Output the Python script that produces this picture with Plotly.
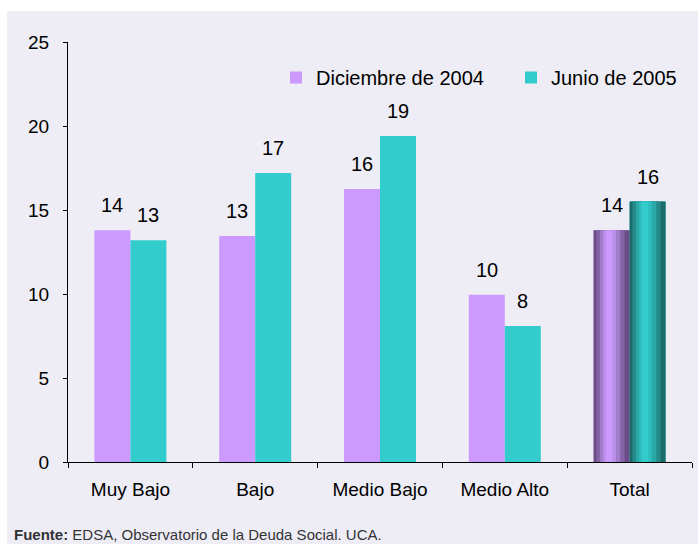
import plotly.graph_objects as go

categories = ["Muy Bajo", "Bajo", "Medio Bajo", "Medio Alto", "Total"]
dic_2004 = [13.8, 13.45, 16.25, 9.95, 13.8]
jun_2005 = [13.2, 17.2, 19.4, 8.1, 15.5]
series_names = ["Diciembre de 2004", "Junio de 2005"]
y_ticks = [0, 5, 10, 15, 20, 25]

PURPLE = "#CC99FF"
TEAL = "#33CCCC"
BG = "#EEEDF6"
FONT = "Arial, Liberation Sans, sans-serif"
BW = 0.2885

W, H = 698, 544
ML, MR, MT, MB = 68, 6, 42, 82
plot_w = W - ML - MR
cat_px = plot_w / len(categories)
half_bar_px = BW * cat_px / 2

purple_shades = ["#6A4C86", "#8463A6", "#A27DCB", "#BC90EB", "#CC99FF"]
teal_shades = ["#1C6B6B", "#248A8A", "#2BA8A8", "#30BDBD", "#33CCCC"]
bands = [(0.0, 1.0), (0.08, 0.86), (0.18, 0.74), (0.27, 0.62), (0.34, 0.52)]

fig = go.Figure()

fig.add_trace(go.Bar(
    x=categories, y=dic_2004, name=series_names[0],
    marker=dict(color=PURPLE, line=dict(width=0)),
    width=BW, offset=-BW, legend="legend",
))
fig.add_trace(go.Bar(
    x=categories, y=jun_2005, name=series_names[1],
    marker=dict(color=TEAL, line=dict(width=0)),
    width=BW, offset=0, legend="legend2",
))

# cylinder-like shading for the Total bars
for shade, (a, b) in zip(purple_shades, bands):
    fig.add_trace(go.Bar(
        x=[categories[-1]], y=[dic_2004[-1]], showlegend=False, hoverinfo="skip",
        marker=dict(color=shade, line=dict(width=0)),
        width=BW * (b - a), offset=-BW + BW * a,
    ))
for shade, (a, b) in zip(teal_shades, bands):
    fig.add_trace(go.Bar(
        x=[categories[-1]], y=[jun_2005[-1]], showlegend=False, hoverinfo="skip",
        marker=dict(color=shade, line=dict(width=0)),
        width=BW * (b - a), offset=BW * a,
    ))

annotations = []
for vals, sign in ((dic_2004, -1), (jun_2005, 1)):
    for c, v in zip(categories, vals):
        annotations.append(dict(
            x=c, y=v, xref="x", yref="y", text=f"{round(v):d}", showarrow=False,
            xanchor="center", yanchor="bottom", xshift=sign * half_bar_px, yshift=12,
            font=dict(size=20, color="black", family=FONT),
        ))
annotations.append(dict(
    xref="paper", yref="paper", x=(12 - ML) / plot_w, y=(H - MB - 534) / (H - MT - MB),
    xanchor="left", yanchor="middle",
    text="<b>Fuente:</b> EDSA, Observatorio de la Deuda Social. UCA.",
    showarrow=False, font=dict(size=15, color="#333333", family=FONT),
))

leg_common = dict(
    orientation="h", yanchor="middle", xanchor="left",
    bgcolor="rgba(0,0,0,0)", font=dict(size=20, color="black", family=FONT),
    itemwidth=30, borderwidth=0,
)
leg_y = (H - MB - 77.5) / (H - MT - MB)

fig.update_layout(
    width=W, height=H,
    barmode="overlay",
    paper_bgcolor="white",
    plot_bgcolor="rgba(0,0,0,0)",
    margin=dict(l=ML, r=MR, t=MT, b=MB, pad=0),
    font=dict(family=FONT, size=19, color="black"),
    showlegend=True,
    legend=dict(x=(276 - ML) / plot_w, y=leg_y, **leg_common),
    legend2=dict(x=(511 - ML) / plot_w, y=leg_y, **leg_common),
    xaxis=dict(
        type="category", showline=True, linecolor="black", linewidth=1,
        ticks="outside", tickson="boundaries", ticklen=5, tickcolor="black",
        showgrid=False, zeroline=False, tickfont=dict(size=19), ticklabelstandoff=10,
    ),
    yaxis=dict(
        range=[0, 25], tickvals=y_ticks, showline=True, linecolor="black", linewidth=1,
        ticks="outside", ticklen=4, tickcolor="black", showgrid=False, zeroline=False,
        tickfont=dict(size=19), ticklabelstandoff=10,
    ),
    shapes=[dict(
        type="rect", xref="paper", yref="paper",
        x0=(7 - ML) / plot_w, x1=(W + 10 - ML) / plot_w,
        y0=(H - MB - H - 10) / (H - MT - MB), y1=(H - MB - 11) / (H - MT - MB),
        fillcolor=BG, line=dict(width=0), layer="below",
    )],
    annotations=annotations,
)

fig.write_html(
    "out.html",
    config={"displayModeBar": False},
    post_script="document.body.style.margin='0';document.body.style.overflow='hidden';",
)
